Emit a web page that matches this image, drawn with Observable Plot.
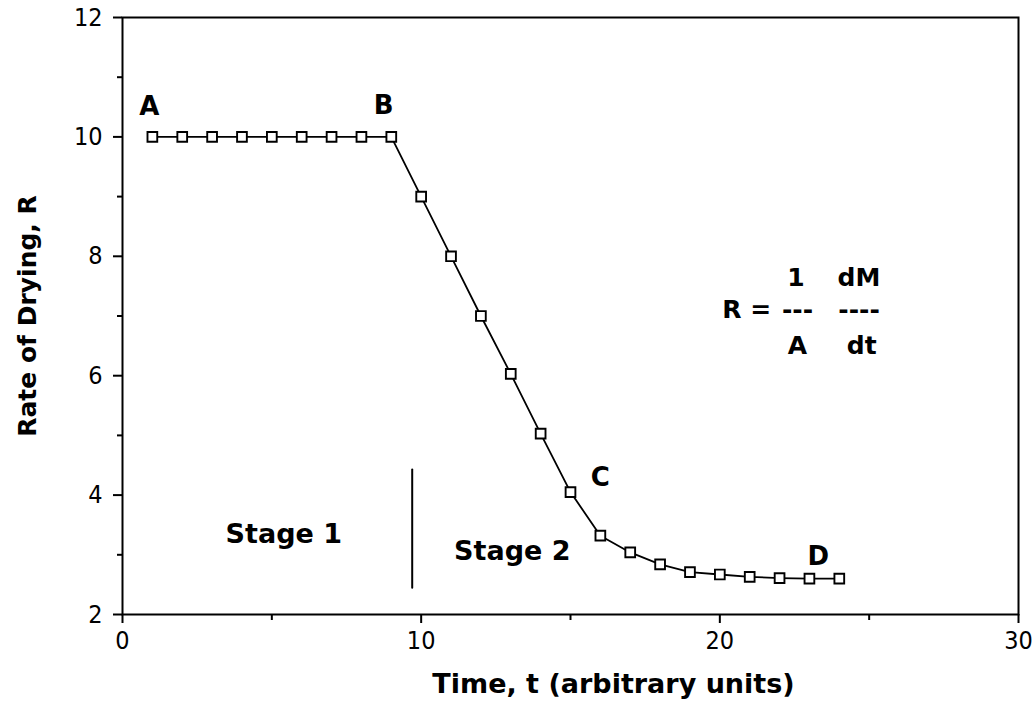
<!DOCTYPE html>
<html>
<head>
<meta charset="utf-8">
<script src="https://cdn.jsdelivr.net/npm/d3@7"></script>
<script src="https://cdn.jsdelivr.net/npm/@observablehq/plot@0.6"></script>
<style>
  html, body { margin: 0; padding: 0; background: #fff; }
</style>
</head>
<body>
<div id="chart"></div>
<script>
// Data
const time = [1,2,3,4,5,6,7,8,9,10,11,12,13,14,15,16,17,18,19,20,21,22,23,24];
const rate = [10,10,10,10,10,10,10,10,10,9,8,7,6.03,5.03,4.05,3.32,3.04,2.84,2.71,2.67,2.63,2.61,2.60,2.60];

const xTicks = [0, 10, 20, 30];
const xMinor = [5, 15, 25];
const yTicks = [2, 4, 6, 8, 10, 12];
const yMinor = [3, 5, 7, 9, 11];

const pointLabels = ["A", "B", "C", "D"];
const pointLabelX = [0.9, 8.74, 16.0, 23.3];
const pointLabelY = [10.5, 10.52, 4.3, 2.97];

const stageLabels = ["Stage 1", "Stage 2"];
const stageX = [5.4, 13.05];
const stageY = [3.34, 3.05];

const dividerX = [9.7, 9.7];
const dividerY = [4.43, 2.45];

const formulaText = ["R =", "1", "---", "A", "dM", "----", "dt"];
const formulaX = [20.9, 22.55, 22.6, 22.6, 24.66, 24.66, 24.75];
const formulaY = [7.1, 7.64, 7.1, 6.5, 7.64, 7.1, 6.5];

const xTitle = "Time, t (arbitrary units)";
const yTitle = "Rate of Drying, R";

const pts = time.map((t, i) => ({t, r: rate[i]}));
const lbls = pointLabels.map((s, i) => ({s, x: pointLabelX[i], y: pointLabelY[i]}));
const stages = stageLabels.map((s, i) => ({s, x: stageX[i], y: stageY[i]}));
const divider = dividerX.map((x, i) => ({x, y: dividerY[i]}));
const formula = formulaText.map((s, i) => ({s, x: formulaX[i], y: formulaY[i]}));

const bold = {fontFamily: "DejaVu Sans, sans-serif", fontWeight: "bold", fill: "black"};
const tickFont = "DejaVu Sans Condensed, DejaVu Sans, sans-serif";

const chart = Plot.plot({
  width: 1033,
  height: 706,
  marginLeft: 122,
  marginRight: 15,
  marginTop: 17,
  marginBottom: 92,
  style: {fontFamily: tickFont, fontSize: "25px", background: "#fff", color: "black"},
  x: {domain: [0, 30]},
  y: {domain: [2, 12]},
  marks: [
    Plot.frame({stroke: "black", strokeWidth: 2}),
    Plot.axisX({ticks: xTicks, tickSize: 9, tickPadding: 8, tickFormat: d => d, label: null, strokeWidth: 2, fontSize: 25, fontFamily: tickFont}),
    Plot.axisX({ticks: xMinor, tickSize: 6, tickFormat: () => "", label: null, strokeWidth: 2}),
    Plot.axisY({ticks: yTicks, tickSize: 9, tickPadding: 11, tickFormat: d => d, label: null, strokeWidth: 2, fontSize: 25, fontFamily: tickFont}),
    Plot.axisY({ticks: yMinor, tickSize: 5, tickFormat: () => "", label: null, strokeWidth: 2}),
    Plot.line(pts, {x: "t", y: "r", stroke: "black", strokeWidth: 1.8}),
    Plot.dot(pts, {x: "t", y: "r", symbol: "square", r: 5.5, fill: "white", stroke: "black", strokeWidth: 1.9}),
    Plot.line(divider, {x: "x", y: "y", stroke: "black", strokeWidth: 2}),
    Plot.text(lbls, {x: "x", y: "y", text: "s", fontSize: 26, ...bold}),
    Plot.text(stages, {x: "x", y: "y", text: "s", fontSize: 27, ...bold}),
    Plot.text(formula, {x: "x", y: "y", text: "s", fontSize: 25, ...bold}),
    Plot.text([xTitle], {frameAnchor: "bottom", dx: 43, dy: 78, text: d => d, fontSize: 27, ...bold}),
    Plot.text([yTitle], {frameAnchor: "left", textAnchor: "middle", dx: -95, rotate: -90, text: d => d, fontSize: 25, ...bold})
  ]
});
document.getElementById("chart").appendChild(chart);
</script>
</body>
</html>
